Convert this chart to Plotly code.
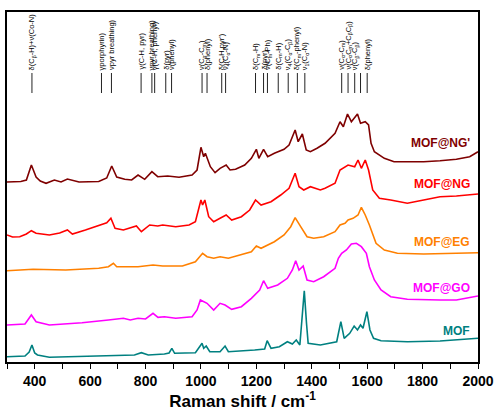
import plotly.graph_objects as go

# ---- data (intensity in arbitrary offset units) ----
ng2_x = [300, 350, 370, 388, 405, 420, 441, 471, 495, 518, 560, 631, 660, 678, 696, 725, 750, 773, 797, 823, 844, 862, 880, 921, 968, 986, 1000, 1010, 1016, 1034, 1051, 1069, 1091, 1105, 1125, 1158, 1182, 1200, 1209, 1226, 1241, 1265, 1300, 1318, 1330, 1340, 1351, 1366, 1380, 1395, 1419, 1448, 1484, 1502, 1514, 1529, 1543, 1565, 1576, 1593, 1605, 1614, 1626, 1662, 1697, 1757, 1804, 1863, 1922, 1970, 2000]
ng2_y = [180, 180.5, 182, 197, 185, 181, 178.7, 182, 180, 183, 180, 180.5, 184, 196, 185, 182.7, 182, 187, 182.7, 190.3, 185.3, 185.3, 186, 184.7, 187, 192, 214.7, 205.3, 208.7, 195.3, 189.3, 193.7, 197, 192, 192.7, 197, 203.7, 212.7, 203.7, 212.7, 205.3, 208.7, 212.7, 217, 225.3, 232, 220.3, 228, 212, 210.3, 213.7, 218.7, 228.7, 240.3, 235.3, 248, 240.3, 248, 238.7, 240.3, 237, 218.7, 210.3, 203.7, 200.3, 200.3, 200.3, 201.3, 202.7, 205.3, 210.3]

ng_x = [300, 320, 346, 370, 388, 405, 453, 490, 518, 536, 583, 631, 660, 675, 690, 720, 767, 785, 815, 844, 862, 909, 957, 980, 992, 1000, 1006, 1014, 1028, 1046, 1069, 1091, 1111, 1146, 1176, 1197, 1217, 1253, 1288, 1318, 1340, 1354, 1371, 1395, 1431, 1448, 1484, 1502, 1531, 1555, 1567, 1579, 1593, 1605, 1620, 1644, 1685, 1745, 1804, 1863, 1922, 1970, 2000]
ng_y = [127, 125, 125.3, 128, 131.3, 128.7, 127, 129, 132, 128, 132, 137, 139.3, 143.7, 133.7, 132, 136, 130.3, 137, 136, 137, 135.3, 137, 140.3, 152, 162, 157, 162, 145.3, 140.3, 143.7, 147, 142, 145.3, 152, 162, 157, 160.3, 167, 173.7, 188.7, 175.3, 172, 175.3, 172, 173.7, 178.7, 192, 197, 195.3, 202, 193.7, 202, 192, 172, 163.7, 162, 158.7, 162, 165.3, 166, 167, 168]

eg_x = [300, 394, 512, 631, 666, 684, 696, 773, 827, 862, 933, 980, 1006, 1022, 1046, 1069, 1099, 1146, 1182, 1200, 1217, 1265, 1300, 1324, 1340, 1360, 1383, 1407, 1443, 1484, 1502, 1520, 1531, 1549, 1567, 1579, 1593, 1608, 1632, 1662, 1709, 1804, 1922, 2000]
eg_y = [91.3, 92.7, 92, 93.7, 95.3, 98.7, 95.3, 95.3, 97, 96, 96, 100.3, 108.7, 105.3, 103.7, 105.3, 103.7, 107, 110.3, 116, 113.7, 120.3, 127, 135.3, 144.3, 135.3, 125.3, 123.7, 125.3, 130.3, 137, 138.7, 142, 143.7, 147, 154.7, 147, 137, 118.7, 112, 108.7, 108, 108.7, 109.3]

go_x = [300, 365, 388, 405, 453, 571, 666, 720, 745, 773, 800, 827, 845, 868, 909, 968, 986, 998, 1022, 1046, 1069, 1087, 1111, 1146, 1182, 1212, 1226, 1241, 1277, 1312, 1330, 1342, 1354, 1369, 1383, 1407, 1443, 1460, 1484, 1496, 1508, 1525, 1543, 1561, 1579, 1597, 1608, 1626, 1650, 1685, 1745, 1863, 1922, 2000]
go_y = [37, 38, 47, 40.3, 37, 39.3, 42, 43.7, 42, 43.7, 43, 48.7, 44.7, 45.3, 43.7, 45.3, 52, 62, 58.7, 52, 58.7, 57, 52.7, 55.3, 63.7, 72, 81.3, 73.7, 77, 83.7, 92, 101.3, 92, 96, 82, 80.3, 85.3, 88.7, 93.7, 103.7, 108.7, 112, 118, 118.7, 115.3, 108.7, 95.3, 82, 72, 65.3, 62.7, 62, 62, 66]

mof_x = [300, 365, 380, 390, 400, 410, 453, 631, 760, 785, 810, 868, 885, 895, 905, 980, 1004, 1010, 1019, 1032, 1069, 1087, 1099, 1194, 1230, 1239, 1253, 1283, 1312, 1330, 1344, 1357, 1364, 1373, 1381, 1387, 1431, 1448, 1490, 1505, 1517, 1537, 1553, 1565, 1576, 1585, 1599, 1610, 1623, 1650, 1745, 1863, 2000]
mof_y = [5.3, 6, 10, 17, 9, 7, 4.7, 6, 7, 9.3, 7, 8, 9, 13.7, 8.7, 9.3, 18.7, 13.7, 16, 10.3, 10.3, 16, 10.3, 12, 13, 21.3, 13.7, 15.3, 20.3, 18, 22, 17, 38.7, 71.3, 38.7, 18.7, 17, 18, 20.3, 40.3, 23.7, 28.7, 36, 32, 37, 33.7, 50.3, 32, 23.7, 21.3, 20.3, 21, 23.7]

series_names = ["MOF@NG'", "MOF@NG", "MOF@EG", "MOF@GO", "MOF"]
series_colors = ["#7f0000", "#ff0000", "#ff8000", "#ff00ff", "#008080"]
label_y = [219, 178, 120.5, 74, 31.5]

band_pos = [390, 641, 677, 784, 823, 833, 873, 894, 1004, 1022, 1075, 1089,
            1197, 1226, 1240, 1279, 1315, 1348, 1375, 1508, 1531, 1555, 1576, 1600]
band_labels = [
    "δ(C<sub>β</sub>-H)+ν(Co-N)", "γporphyrin)", "νpyr breathing)", "γ(C-H, pyr)",
    "νpyr breathing)", "γ(C-H, phenyl)", "δ(pyr)", "ν(phenyl)",
    "ν(C<sub>α</sub>-C<sub>m</sub>)", "δ(phenyl)", "δ(C-H,pyr')", "ν<sub>4</sub>(C<sub>α</sub>-N)",
    "δ(C<sub>m</sub>-H)", "δ(pyr)", "ν(C<sub>m</sub>-Ph)", "δ(C<sub>m</sub>-H)",
    "ν<sub>4</sub>(C<sub>α</sub>-C<sub>β</sub>)", "δ(C<sub>m</sub>-phenyl)", "ν<sub>1</sub>(C<sub>α</sub>-N)",
    "ν(C<sub>α</sub>-C<sub>m</sub>)", "ν(C<sub>α</sub>C<sub>m</sub>+C<sub>β</sub>C<sub>β</sub>)",
    "ν(C<sub>β</sub>-C<sub>β</sub>)", "", "δ(phenyl)"]

xs = [ng2_x, ng_x, eg_x, go_x, mof_x]
ys = [ng2_y, ng_y, eg_y, go_y, mof_y]

fig = go.Figure()
for name, color, x, y in zip(series_names, series_colors, xs, ys):
    fig.add_trace(go.Scatter(x=x, y=y, mode="lines", name=name,
                             line=dict(color=color, width=1.6), showlegend=False))

for name, color, ly in zip(series_names, series_colors, label_y):
    fig.add_annotation(x=1978, y=ly, xref="x", yref="y", text="<b>%s</b>" % name,
                       showarrow=False, xanchor="right", yanchor="middle",
                       font=dict(family="Liberation Sans, Arial", size=12, color=color))

line_bottom, line_top = 269, 289
for pos, lab in zip(band_pos, band_labels):
    fig.add_shape(type="line", x0=pos, x1=pos, y0=line_bottom, y1=line_top,
                  xref="x", yref="y", line=dict(color="#222222", width=1))
    if lab:
        fig.add_annotation(x=pos, y=line_top + 1, xref="x", yref="y", text=lab,
                           textangle=-90, showarrow=False, xanchor="center", yanchor="bottom",
                           font=dict(family="Liberation Sans, Arial", size=7.5, color="black"))

fig.update_layout(
    width=501, height=417,
    margin=dict(l=7, r=16, t=12, b=55),
    paper_bgcolor="white", plot_bgcolor="white",
    font=dict(family="Liberation Sans, Arial", color="black"),
)
fig.update_xaxes(
    range=[300, 2000], tickmode="linear", tick0=400, dtick=200,
    ticks="outside", ticklen=5, tickwidth=1.2, tickcolor="black",
    minor=dict(ticks="outside", ticklen=5, tickwidth=1.2, tickcolor="black", dtick=100, tick0=300),
    showline=True, linewidth=1.5, linecolor="black", mirror=True,
    showgrid=False, zeroline=False,
    tickfont=dict(family="Liberation Sans, Arial", size=14, color="black", weight="bold"),
    title=dict(text="<b>Raman shift / cm<sup>-1</sup></b>", standoff=8,
               font=dict(family="Liberation Sans, Arial", size=17, color="black")),
)
fig.update_yaxes(
    range=[0, 350], showticklabels=False, ticks="",
    showline=True, linewidth=1.5, linecolor="black", mirror=True,
    showgrid=False, zeroline=False,
)

fig.write_html("out.html")
